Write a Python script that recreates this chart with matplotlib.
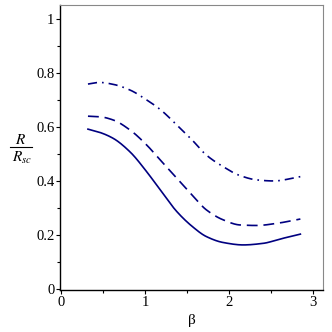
import matplotlib
matplotlib.use("Agg")
import matplotlib.pyplot as plt
from matplotlib.lines import Line2D
import numpy as np

beta_solid = [0.32, 0.46, 0.62, 0.82, 1.02, 1.18, 1.38, 1.56, 1.73, 1.93, 2.17, 2.41, 2.61, 2.85]
r_solid = [0.592, 0.580, 0.558, 0.508, 0.434, 0.367, 0.286, 0.232, 0.194, 0.172, 0.163, 0.169, 0.185, 0.203]

beta_dash = [0.32, 0.46, 0.62, 0.82, 1.02, 1.18, 1.38, 1.56, 1.73, 1.93, 2.13, 2.33, 2.57, 2.85]
r_dash = [0.640, 0.638, 0.626, 0.589, 0.533, 0.478, 0.410, 0.348, 0.293, 0.256, 0.237, 0.235, 0.243, 0.259]

beta_dd = [0.32, 0.46, 0.62, 0.82, 1.02, 1.18, 1.38, 1.56, 1.73, 1.93, 2.13, 2.33, 2.53, 2.85]
r_dd = [0.759, 0.765, 0.758, 0.737, 0.700, 0.665, 0.607, 0.552, 0.496, 0.453, 0.420, 0.404, 0.400, 0.416]

xticks = [0, 1, 2, 3]
yticks = [0, 0.2, 0.4, 0.6, 0.8, 1.0]
yticklabels = ["0", "0.2", "0.4", "0.6", "0.8", "1"]

plt.rcParams['font.family'] = ['Liberation Serif', 'DejaVu Serif']
plt.rcParams['mathtext.fontset'] = 'stix'

fig = plt.figure(figsize=(3.32, 3.32), dpi=100)
ax = fig.add_axes([0.181, 0.1265, 0.792, 0.8585])

def smooth(x, y):
    x = np.asarray(x, float); y = np.asarray(y, float)
    xs = np.linspace(x[0], x[-1], 400)
    h = np.diff(x); d = np.diff(y) / h
    m = np.zeros_like(y)
    m[0] = d[0]; m[-1] = d[-1]
    for i in range(1, len(y) - 1):
        if d[i-1] * d[i] <= 0:
            m[i] = 0
        else:
            w1 = 2*h[i] + h[i-1]; w2 = h[i] + 2*h[i-1]
            m[i] = (w1 + w2) / (w1/d[i-1] + w2/d[i])
    idx = np.clip(np.searchsorted(x, xs) - 1, 0, len(x) - 2)
    t = (xs - x[idx]) / h[idx]
    h00 = 2*t**3 - 3*t**2 + 1; h10 = t**3 - 2*t**2 + t
    h01 = -2*t**3 + 3*t**2; h11 = t**3 - t**2
    ys = h00*y[idx] + h10*h[idx]*m[idx] + h01*y[idx+1] + h11*h[idx]*m[idx+1]
    return xs, ys

col = '#000080'
xs, ys = smooth(beta_solid, r_solid)
ax.plot(xs, ys, color=col, lw=1.2, linestyle='-')
xs, ys = smooth(beta_dash, r_dash)
ax.plot(xs, ys, color=col, lw=1.2, linestyle=(0, (6.5, 3.5)))
xs, ys = smooth(beta_dd, r_dd)
ax.plot(xs, ys, color=col, lw=1.2, linestyle=(0, (5.5, 3, 1, 3)))

ax.set_xlim(-0.012, 3.12)
ax.set_ylim(-0.004, 1.052)
ax.set_xticks(xticks)
ax.set_xticks([0.5, 1.5, 2.5], minor=True)
ax.set_yticks(yticks)
ax.set_yticklabels(yticklabels)
ax.set_yticks([0.1, 0.3, 0.5, 0.7, 0.9], minor=True)
ax.tick_params(which='both', direction='out', labelsize=10.5, pad=1)
ax.tick_params(which='major', length=3, width=0.8)
ax.tick_params(which='minor', length=2, width=0.8)
for s in ['top', 'right']:
    ax.spines[s].set_color('#888888')
for s in ['left', 'bottom']:
    ax.spines[s].set_color('black')
    ax.spines[s].set_linewidth(1.0)

ax.set_xlabel('β', fontsize=11, labelpad=4)

# y label as a stacked fraction R / R_sc
W = H = 332.0
fig.text(21/W, 1 - 140/H, r'$R$', fontsize=11, ha='center', va='center')
fig.add_artist(Line2D([10/W, 32/W], [1 - 147/H, 1 - 147/H], color='black', lw=0.8))
fig.text(22/W, 1 - 158/H, r'$R_{sc}$', fontsize=11, ha='center', va='center')

fig.savefig('out.png', dpi=100)
